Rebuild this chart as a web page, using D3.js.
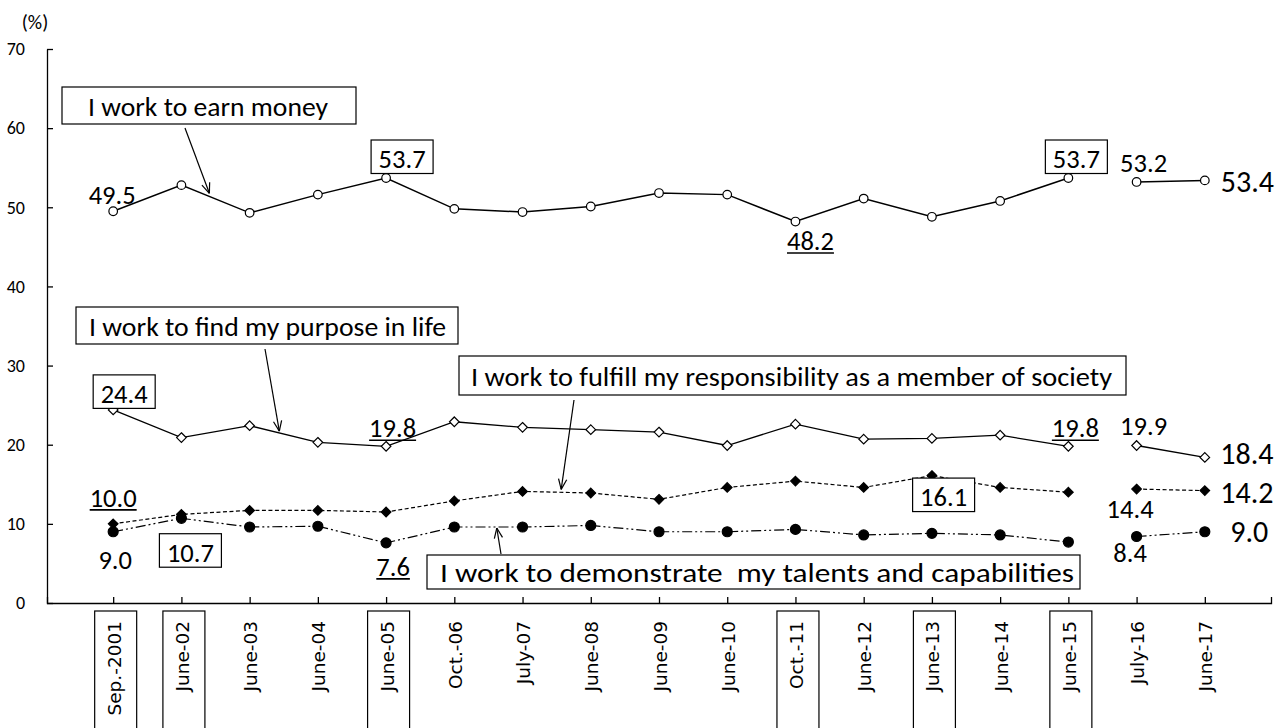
<!DOCTYPE html>
<html>
<head>
<meta charset="utf-8">
<script src="https://cdn.jsdelivr.net/npm/d3@7"></script>
<style>
  body { margin: 0; background: #fff; }
  svg { display: block; }
</style>
</head>
<body>
<svg id="chart" width="1287" height="728"></svg>
<script>
// ---- data -------------------------------------------------------------
const categories = ["Sep.-2001", "June-02", "June-03", "June-04", "June-05", "Oct.-06",
  "July-07", "June-08", "June-09", "June-10", "Oct.-11", "June-12", "June-13",
  "June-14", "June-15", "July-16", "June-17"];

const earnMoney            = [49.5, 52.8, 49.3, 51.6, 53.7, 49.8, 49.4, 50.1, 51.8, 51.6, 48.2, 51.1, 48.8, 50.8, 53.7, 53.2, 53.4];
const purposeInLife        = [24.4, 20.9, 22.4, 20.3, 19.8, 22.9, 22.2, 21.9, 21.6, 19.9, 22.6, 20.7, 20.8, 21.2, 19.8, 19.9, 18.4];
const socialResponsibility = [10.0, 11.2, 11.7, 11.7, 11.5, 12.9, 14.1, 13.9, 13.1, 14.6, 15.4, 14.6, 16.1, 14.6, 14.0, 14.4, 14.2];
const talentsCapabilities  = [ 9.0, 10.7,  9.6,  9.7,  7.6,  9.6,  9.6,  9.8,  9.0,  9.0,  9.3,  8.6,  8.8,  8.6,  7.7,  8.4,  9.0];

const yTicks = [0, 10, 20, 30, 40, 50, 60, 70];
const yUnit = "(%)";

// surveys from this point on are plotted as a separate run (no connecting line)
const newRunStartsAt = "July-16";

// category labels shown framed on the axis
const framedCategories = ["Sep.-2001", "June-02", "June-05", "Oct.-11", "June-13", "June-15"];

// ---- layout & styles ----------------------------------------------------
const W = 1287, H = 728;
const plot = { left: 47, right: 1271, top: 49, bottom: 603 };
const TEXT_FONT = "Carlito, Lato, sans-serif";
const AXIS_FONT = "'DejaVu Sans', Verdana, sans-serif";

const svg = d3.select("#chart");

const x = d3.scalePoint().domain(categories).range([plot.left, plot.right]).padding(0.97);
const y = d3.scaleLinear().domain([0, 70]).range([plot.bottom, plot.top]);

const series = [
  { key: "money",  values: earnMoney,            marker: "circle",  filled: false, r: 4.3, width: 1.5, dash: null },
  { key: "purpose",values: purposeInLife,        marker: "diamond", filled: false, r: 4.8, width: 1.3, dash: null },
  { key: "resp",   values: socialResponsibility, marker: "diamond", filled: true,  r: 4.8, width: 1.2, dash: "4,2.5" },
  { key: "talent", values: talentsCapabilities,  marker: "circle",  filled: true,  r: 5.0, width: 1.2, dash: "10,3,2,3,2,3" }
];

// ---- axes ---------------------------------------------------------------
const yAxis = d3.axisLeft(y).tickValues(yTicks).tickSizeInner(-6).tickSizeOuter(0)
  .tickPadding(22).tickFormat(d3.format("d"));
svg.append("g").attr("transform", `translate(${plot.left},0)`).call(yAxis)
  .call(g => g.selectAll("path,line").attr("stroke", "#000").attr("stroke-width", 1.3))
  .call(g => g.selectAll("text").attr("font-family", TEXT_FONT).attr("font-size", 18).attr("fill", "#000"));

svg.append("text").attr("x", 35).attr("y", 29).attr("text-anchor", "middle")
  .attr("font-family", TEXT_FONT).attr("font-size", 20).attr("fill", "#000").text(yUnit);

const xAxis = d3.axisBottom(x).tickSizeInner(-6).tickSizeOuter(-6).tickPadding(0);
const xg = svg.append("g").attr("transform", `translate(0,${plot.bottom})`).call(xAxis);
xg.selectAll("path,line").attr("stroke", "#000").attr("stroke-width", 1.3);
xg.selectAll(".tick text")
  .attr("font-family", AXIS_FONT).attr("font-size", 18.5).attr("fill", "#000")
  .attr("text-anchor", "end").attr("transform", "rotate(-90)")
  .attr("x", -18).attr("y", 7).attr("dy", 0);
xg.selectAll(".tick").filter(d => framedCategories.includes(d))
  .insert("rect", "text")
  .attr("x", -19).attr("y", 8).attr("width", 42).attr("height", 140)
  .attr("fill", "none").attr("stroke", "#000").attr("stroke-width", 1.2);

// ---- series lines and markers -------------------------------------------
const splitIdx = categories.indexOf(newRunStartsAt);
const line = d3.line().x(d => x(d.cat)).y(d => y(d.v));

function markerPath(type, r) {
  if (type === "diamond") return `M0,${-r}L${r},0L0,${r}L${-r},0Z`;
  return d3.arc()({ innerRadius: 0, outerRadius: r, startAngle: 0, endAngle: 2 * Math.PI });
}

series.forEach(s => {
  const pts = s.values.map((v, i) => ({ cat: categories[i], v }));
  const runs = [pts.slice(0, splitIdx), pts.slice(splitIdx)];
  const g = svg.append("g");
  runs.forEach(run => {
    g.append("path").attr("d", line(run)).attr("fill", "none")
      .attr("stroke", "#000").attr("stroke-width", s.width)
      .attr("stroke-dasharray", s.dash);
  });
  g.selectAll("path.mk").data(pts).join("path").attr("class", "mk")
    .attr("transform", d => `translate(${x(d.cat)},${y(d.v)})`)
    .attr("d", markerPath(s.marker, s.r))
    .attr("fill", s.filled ? "#000" : "#fff")
    .attr("stroke", "#000").attr("stroke-width", 1.2);
});

// ---- value labels -------------------------------------------------------
// style: plain | box | under | big ; dx/dy offset from the marker (dy to baseline)
const valueLabels = [
  { s: 0, cat: "Sep.-2001", style: "plain", dx: -1,   dy: -7 },
  { s: 0, cat: "June-05",   style: "box",   dx: 16,   dy: -10 },
  { s: 0, cat: "Oct.-11",   style: "under", dx: 15,   dy: 28.5 },
  { s: 0, cat: "June-15",   style: "box",   dx: 8,    dy: -10 },
  { s: 0, cat: "July-16",   style: "plain", dx: 7,    dy: -10 },
  { s: 0, cat: "June-17",   style: "big",   dx: 16,   dy: 12 },
  { s: 1, cat: "Sep.-2001", style: "box",   dx: 11,   dy: -7 },
  { s: 1, cat: "June-05",   style: "under", dx: 6.5,  dy: -9 },
  { s: 1, cat: "June-15",   style: "under", dx: 7,    dy: -9 },
  { s: 1, cat: "July-16",   style: "plain", dx: 7,    dy: -10.5 },
  { s: 1, cat: "June-17",   style: "big",   dx: 15.5, dy: 7 },
  { s: 2, cat: "Sep.-2001", style: "under", dx: 0,    dy: -17 },
  { s: 2, cat: "June-13",   style: "box",   dx: 11.7, dy: 30.5 },
  { s: 2, cat: "July-16",   style: "plain", dx: -6.5, dy: 29 },
  { s: 2, cat: "June-17",   style: "big",   dx: 15.5, dy: 12.7 },
  { s: 3, cat: "Sep.-2001", style: "plain", dx: 2,    dy: 37.5 },
  { s: 3, cat: "June-02",   style: "box",   dx: 9,    dy: 43.4 },
  { s: 3, cat: "June-05",   style: "under", dx: 7,    dy: 33 },
  { s: 3, cat: "July-16",   style: "plain", dx: -6.5, dy: 25 },
  { s: 3, cat: "June-17",   style: "big",   dx: 25.5, dy: 10 }
];

const lblLayer = svg.append("g");
valueLabels.forEach(l => {
  const v = series[l.s].values[categories.indexOf(l.cat)];
  const mx = x(l.cat), my = y(v);
  const big = l.style === "big";
  const t = lblLayer.append("text")
    .attr("x", mx + l.dx).attr("y", my + l.dy)
    .attr("text-anchor", big ? "start" : "middle")
    .attr("font-family", TEXT_FONT).attr("font-size", big ? 30 : 26.5)
    .attr("fill", "#000").text(v.toFixed(1));
  const bb = t.node().getBBox();
  const base = my + l.dy;
  if (l.style === "box") {
    lblLayer.insert("rect", "text")
      .attr("x", mx + l.dx - 31).attr("y", base - 28).attr("width", 62).attr("height", 33.5)
      .attr("fill", "#fff").attr("stroke", "#000").attr("stroke-width", 1.2);
  } else if (l.style === "under") {
    lblLayer.append("line")
      .attr("x1", bb.x).attr("x2", bb.x + bb.width).attr("y1", base + 3).attr("y2", base + 3)
      .attr("stroke", "#000").attr("stroke-width", 1.6);
  }
});

// ---- series callouts ----------------------------------------------------
// box: [x, y, w, h]; arrow tail point, head lands on the series line between
// two categories at fraction t, stopping `gap` px short of it
const callouts = [
  { s: 0, text: "I work to earn money", box: [62, 87, 294, 37], tx: 88, ty: 116, tw: 240,
    tail: [185, 128], seg: ["June-02", "June-03"], t: 0.43, gap: 4 },
  { s: 1, text: "I work to find my purpose in life", box: [76, 307, 382, 37], tx: 89, ty: 336, tw: 357,
    tail: [265, 349], seg: ["June-03", "June-04"], t: 0.44, gap: 2 },
  { s: 2, text: "I work to fulfill my responsibility as a member of society", box: [459, 356, 667, 39], tx: 471, ty: 386, tw: 641,
    tail: [574, 400], seg: ["July-07", "June-08"], t: 0.56, gap: 3 },
  { s: 3, text: "I work to demonstrate  my talents and capabilities", box: [427, 555, 653, 34], tx: 440, ty: 582, tw: 634,
    tail: [501, 554], seg: ["Oct.-06", "July-07"], t: 0.62, gap: 1 }
];

const coLayer = svg.append("g");
callouts.forEach(c => {
  const vals = series[c.s].values;
  const i0 = categories.indexOf(c.seg[0]), i1 = categories.indexOf(c.seg[1]);
  const px = x(c.seg[0]) + c.t * (x(c.seg[1]) - x(c.seg[0]));
  const py = y(vals[i0] + c.t * (vals[i1] - vals[i0]));
  const [tx0, ty0] = c.tail;
  const len = Math.hypot(px - tx0, py - ty0);
  const ux = (px - tx0) / len, uy = (py - ty0) / len;
  const hx = px - ux * c.gap, hy = py - uy * c.gap;

  coLayer.append("line").attr("x1", tx0).attr("y1", ty0).attr("x2", hx).attr("y2", hy)
    .attr("stroke", "#000").attr("stroke-width", 1.2);
  const ah = 11, ang = 22 * Math.PI / 180;
  const back = Math.atan2(-uy, -ux);
  [ang, -ang].forEach(a => {
    coLayer.append("line").attr("x1", hx).attr("y1", hy)
      .attr("x2", hx + ah * Math.cos(back + a)).attr("y2", hy + ah * Math.sin(back + a))
      .attr("stroke", "#000").attr("stroke-width", 1.2);
  });

  const [bx, by, bw, bh] = c.box;
  coLayer.append("rect").attr("x", bx).attr("y", by).attr("width", bw).attr("height", bh)
    .attr("fill", "#fff").attr("stroke", "#000").attr("stroke-width", 1.2);
  coLayer.append("text").attr("x", c.tx).attr("y", c.ty)
    .attr("font-family", TEXT_FONT).attr("font-size", 27.5)
    .attr("textLength", c.tw).attr("lengthAdjust", "spacingAndGlyphs")
    .style("white-space", "pre").attr("fill", "#000").text(c.text);
});
</script>
</body>
</html>
